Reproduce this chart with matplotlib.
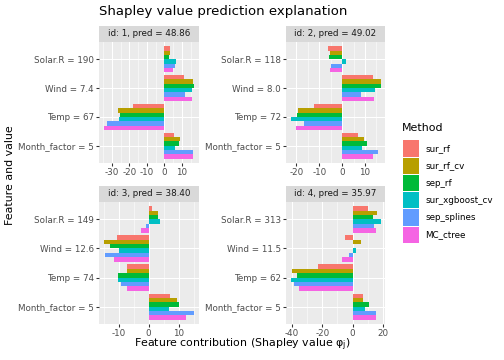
import matplotlib
matplotlib.use("Agg")
import matplotlib.pyplot as plt
from matplotlib.patches import Rectangle
from matplotlib.ticker import AutoMinorLocator
import numpy as np

plt.rcParams["axes.unicode_minus"] = False

# methods and colours (ggplot hue palette)
methods = ["sur_rf", "sur_rf_cv", "sep_rf", "sur_xgboost_cv", "sep_splines", "MC_ctree"]
colors = ["#F8766D", "#B79F00", "#00BA38", "#00BFC4", "#619CFF", "#F564E3"]

features = ["Solar.R", "Wind", "Temp", "Month_factor"]

# one entry per panel
ids = [1, 2, 3, 4]
preds = ["48.86", "49.02", "38.40", "35.97"]
feature_values = [
    ["190", "7.4", "67", "5"],
    ["118", "8.0", "72", "5"],
    ["149", "12.6", "74", "5"],
    ["313", "11.5", "62", "5"],
]

# shapley values: rows = features (Solar.R, Wind, Temp, Month_factor), cols = methods
phi_1 = [[3.4, 3.4, 2.7, 6.6, 6.1, 4.6],
         [11.4, 16.1, 17.1, 15.7, 11.8, 15.7],
         [-18.0, -26.2, -25.4, -26.0, -32.6, -34.7],
         [5.7, 9.1, 8.5, 6.1, 16.5, 16.5]]
phi_2 = [[-6.4, -5.2, -5.9, 1.6, -4.8, -5.1],
         [13.3, 16.8, 16.8, 14.3, 8.1, 13.8],
         [-12.2, -19.3, -19.7, -22.6, -16.8, -20.0],
         [6.8, 9.6, 10.7, 8.7, 15.7, 13.5]]
phi_3 = [[1.2, 3.1, 3.2, 3.9, -0.9, -2.4],
         [-10.6, -15.0, -12.7, -9.7, -14.6, -11.6],
         [-7.2, -7.2, -10.2, -10.2, -9.3, -7.2],
         [7.3, 9.6, 10.3, 6.7, 15.3, 12.6]]
phi_4 = [[10.1, 16.0, 13.6, 18.5, 14.1, 15.2],
         [-4.8, 5.9, 0.1, 2.6, -2.4, -7.0],
         [-22.9, -40.0, -36.7, -41.1, -39.1, -35.2],
         [6.6, 6.6, 11.2, 8.1, 15.8, 15.8]]
phis = [phi_1, phi_2, phi_3, phi_4]

xticks = [[-30, -20, -10, 0, 10], [-20, -10, 0, 10], [-10, 0, 10], [-40, -20, 0, 20]]

W, H = 504, 360
fig = plt.figure(figsize=(W / 72, H / 72), dpi=72)

def px_axes(x0, y0, x1, y1):
    return fig.add_axes([x0 / W, 1 - y1 / H, (x1 - x0) / W, (y1 - y0) / H])

# panel boxes in pixels: (left, right) and (strip top, plot top, plot bottom)
cols = [(99, 199), (286, 385)]
rows = [(26, 42, 163), (186, 202, 324)]

for p in range(4):
    r, c = divmod(p, 2)
    x0, x1 = cols[c]
    st, pt, pb = rows[r]

    # strip
    sax = px_axes(x0, st, x1, pt)
    sax.set_facecolor("#D9D9D9")
    sax.set_xticks([]); sax.set_yticks([])
    for s in sax.spines.values():
        s.set_visible(False)
    sax.text(0.5, 0.5, f"id: {ids[p]}, pred = {preds[p]}", ha="center", va="center",
             fontsize=8.8, color="#1A1A1A", transform=sax.transAxes)

    ax = px_axes(x0, pt, x1, pb)
    ax.set_facecolor("#EBEBEB")
    ax.use_sticky_edges = False
    vals = np.array(phis[p])
    ncat = len(features)
    nm = len(methods)
    w = 0.9 / nm
    for k in range(ncat):
        center = ncat - k
        for i in range(nm):
            y = center + 0.45 - w / 2 - w * i
            ax.barh(y, vals[k, i], height=w, color=colors[i], zorder=3)
    ax.set_ylim(0.4, ncat + 0.6)
    ax.margins(x=0.05)
    ax.set_yticks([ncat - k for k in range(ncat)])
    ax.set_yticklabels([f"{f} = {v}" for f, v in zip(features, feature_values[p])])
    ax.set_xticks(xticks[p])
    ax.xaxis.set_minor_locator(AutoMinorLocator(2))
    ax.grid(True, which="major", color="white", lw=1.07, zorder=0)
    ax.grid(True, which="minor", axis="x", color="white", lw=0.53, zorder=0)
    ax.set_axisbelow(True)
    for s in ax.spines.values():
        s.set_visible(False)
    ax.tick_params(which="major", length=2.75, width=1.07, color="#333333",
                   labelsize=8.8, labelcolor="#4D4D4D", pad=2.2)
    ax.tick_params(which="minor", length=0)

fig.text(99 / W, 1 - 11 / H, "Shapley value prediction explanation", fontsize=13.2,
         ha="left", va="center", color="black")
fig.text(10 / W, 1 - 175 / H, "Feature and value", rotation=90, fontsize=11,
         ha="center", va="center")
fig.text(242 / W, 1 - 345 / H, r"Feature contribution (Shapley value $\mathregular{φ_j}$)",
         fontsize=11, ha="center", va="center")

# legend drawn by hand in pixel positions
fig.text(402 / W, 1 - 128 / H, "Method", fontsize=11, ha="left", va="center")
key = 17.2
for i, (m, col) in enumerate(zip(methods, colors)):
    top = 140 + key * i
    fig.patches.append(Rectangle((402.5 / W, 1 - (top + key - 0.5) / H), 16.5 / W, (key - 1) / H,
                                 transform=fig.transFigure, facecolor=col, edgecolor="none"))
    fig.text(425 / W, 1 - (top + key / 2) / H, m, fontsize=8.8, ha="left", va="center")

fig.savefig("out.png", dpi=72)
